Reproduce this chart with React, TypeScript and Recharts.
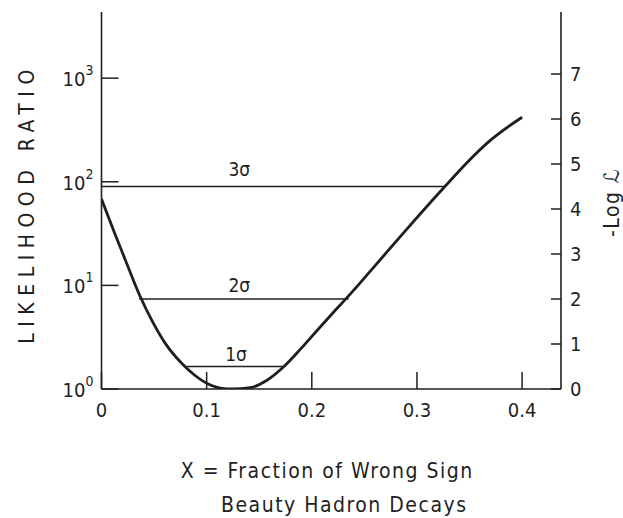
import React from 'react';
import { ComposedChart, Line, XAxis, YAxis, ReferenceLine, ReferenceDot } from 'recharts';

// Fraction of wrong-sign beauty hadron decays (x) and the negative log-likelihood curve
const fractionX = [0, 0.0129, 0.0255, 0.0367, 0.048, 0.0605, 0.0767, 0.089, 0.1014, 0.1129, 0.125, 0.1414, 0.157, 0.173, 0.189, 0.205, 0.22, 0.235, 0.246, 0.259, 0.291, 0.327, 0.348, 0.37, 0.4];
const negLogL = [4.22, 3.44, 2.7, 2.06, 1.52, 1.02, 0.56, 0.3, 0.11, 0.02, 0.0, 0.03, 0.19, 0.49, 0.88, 1.3, 1.69, 2.07, 2.36, 2.71, 3.57, 4.51, 5.04, 5.53, 6.04];

// Confidence levels drawn as horizontal cuts through the curve
const sigmaNames = ['1σ', '2σ', '3σ'];
const sigmaLevels = [0.5, 2, 4.5];
const sigmaFrom = [0.081, 0.036, 0];
const sigmaTo = [0.173, 0.235, 0.327];
const sigmaLabelX = [0.128, 0.131, 0.131];

// Axis ticks
const xTicks = [0, 0.1, 0.2, 0.3, 0.4];
const topTicks = [0.1, 0.2, 0.3, 0.4];
const ratioTicks = [1, 10, 100, 1000];
const ratioExponents = ['0', '1', '2', '3'];
const logTicks = [0, 1, 2, 3, 4, 5, 6, 7];
const xTickLabels = ['0', '0.1', '0.2', '0.3', '0.4'];

const X_MAX = 0.437;
const NLL_MAX = 8.378;

// gap between each sigma cut and its caption, in px
const captionGap = [6, 7, 11];

const INK = '#1f1f1f';
const FONT = "'DejaVu Sans Condensed', 'DejaVu Sans', sans-serif";

const curveData = fractionX.map((x, i) => ({ x, nll: negLogL[i] }));

const LeftTick = (props: any) => {
  const { x, y, index } = props;
  const axisX = x + 8;
  return (
    <g>
      <line x1={axisX} x2={axisX + 17} y1={y} y2={y} stroke={INK} strokeWidth={1.5} />
      <text x={x} y={y + 8} textAnchor="end" fill={INK} fontFamily={FONT} fontSize={20} style={{ fontStretch: 'condensed' }}>
        <tspan>10</tspan>
        <tspan dy={-11} fontSize={14}>{ratioExponents[index]}</tspan>
      </text>
    </g>
  );
};

const RightTick = (props: any) => {
  const { x, y, payload } = props;
  const axisX = x - 9;
  return (
    <g>
      <line x1={axisX} x2={axisX - 10} y1={y} y2={y} stroke={INK} strokeWidth={1.5} />
      <text x={x} y={y + 7} textAnchor="start" fill={INK} fontFamily={FONT} fontSize={20} style={{ fontStretch: 'condensed' }}>
        {payload.value}
      </text>
    </g>
  );
};

const BottomTick = (props: any) => {
  const { x, y, index } = props;
  const axisY = y - 13;
  return (
    <g>
      <line x1={x} x2={x} y1={axisY} y2={axisY - 17} stroke={INK} strokeWidth={1.5} />
      <text x={x} y={y + 15} textAnchor="middle" fill={INK} fontFamily={FONT} fontSize={20} style={{ fontStretch: 'condensed' }}>
        {xTickLabels[index]}
      </text>
    </g>
  );
};

const TopTick = (props: any) => {
  const { x, y } = props;
  return <line x1={x} x2={x} y1={y} y2={y + 13} stroke={INK} strokeWidth={1.5} />;
};

const LeftTitle = (props: any) => {
  const { viewBox } = props;
  const cx = viewBox.x + 27;
  const cy = viewBox.y + viewBox.height / 2 + 3;
  return (
    <text x={cx} y={cy} transform={`rotate(-90 ${cx} ${cy})`} textAnchor="middle" dominantBaseline="central"
      fill={INK} fontFamily={FONT} fontSize={21} letterSpacing={6.5} style={{ fontStretch: 'condensed' }}>
      LIKELIHOOD RATIO
    </text>
  );
};

const RightTitle = (props: any) => {
  const { viewBox } = props;
  const cx = viewBox.x + 51;
  const cy = viewBox.y + viewBox.height / 2 + 2;
  return (
    <text x={cx} y={cy} transform={`rotate(-90 ${cx} ${cy})`} textAnchor="middle" dominantBaseline="central"
      fill={INK} fontFamily={FONT} fontSize={21} letterSpacing={1.5} style={{ fontStretch: 'condensed' }}>
      -Log ℒ
    </text>
  );
};

const BottomTitle = (props: any) => {
  const { viewBox } = props;
  const cx = viewBox.x + viewBox.width / 2;
  return (
    <text fill={INK} fontFamily={FONT} fontSize={21} letterSpacing={1.5} textAnchor="middle" style={{ fontStretch: 'condensed' }}>
      <tspan x={cx - 4} y={viewBox.y + 89}>X = Fraction of Wrong Sign</tspan>
      <tspan x={cx + 13} y={viewBox.y + 123}>Beauty Hadron Decays</tspan>
    </text>
  );
};

export default function App() {
  return (
    <div style={{ position: 'absolute', left: 0, top: 0, width: 623, height: 518, background: '#fff' }}>
      <ComposedChart width={623} height={518} data={curveData} margin={{ top: 12, right: 0, bottom: 0, left: 0 }}>
        <XAxis xAxisId="bottom" dataKey="x" type="number" domain={[0, X_MAX]} ticks={xTicks}
          allowDataOverflow height={129} tickSize={0} tickMargin={13} tick={<BottomTick />} tickLine={false}
          axisLine={{ stroke: INK, strokeWidth: 1.6 }} label={<BottomTitle />} />
        <XAxis xAxisId="top" orientation="top" dataKey="x" type="number" domain={[0, X_MAX]} ticks={topTicks}
          allowDataOverflow height={0} tickSize={0} tickMargin={0} tick={<TopTick />} tickLine={false}
          axisLine={{ stroke: INK, strokeWidth: 1.6 }} />
        <YAxis yAxisId="ratio" orientation="left" type="number" scale="log" domain={[1, Math.exp(NLL_MAX)]}
          allowDataOverflow ticks={ratioTicks} width={101.5} tickSize={0} tickMargin={8} tick={<LeftTick />}
          tickLine={false} axisLine={{ stroke: INK, strokeWidth: 1.6 }} label={<LeftTitle />} />
        <YAxis yAxisId="nll" orientation="right" type="number" domain={[0, NLL_MAX]} allowDataOverflow
          ticks={logTicks} width={62} tickSize={0} tickMargin={9} tick={<RightTick />} tickLine={false}
          axisLine={{ stroke: INK, strokeWidth: 1.6 }} label={<RightTitle />} />

        {sigmaLevels.map((lvl, i) => (
          <ReferenceLine key={`s${i}`} xAxisId="bottom" yAxisId="nll"
            segment={[{ x: sigmaFrom[i], y: lvl }, { x: sigmaTo[i], y: lvl }]}
            stroke={INK} strokeWidth={1.4} ifOverflow="visible" />
        ))}
        {sigmaLevels.map((lvl, i) => (
          <ReferenceDot key={`l${i}`} xAxisId="bottom" yAxisId="nll" x={sigmaLabelX[i]} y={lvl} r={0}
            fill="none" stroke="none" ifOverflow="visible"
            label={{ value: sigmaNames[i], position: 'top', offset: captionGap[i], fill: INK, fontSize: 19, fontFamily: FONT }} />
        ))}

        <Line xAxisId="bottom" yAxisId="nll" dataKey="nll" type="monotone" stroke={INK} strokeWidth={2.8}
          dot={false} isAnimationActive={false} />
      </ComposedChart>
    </div>
  );
}
